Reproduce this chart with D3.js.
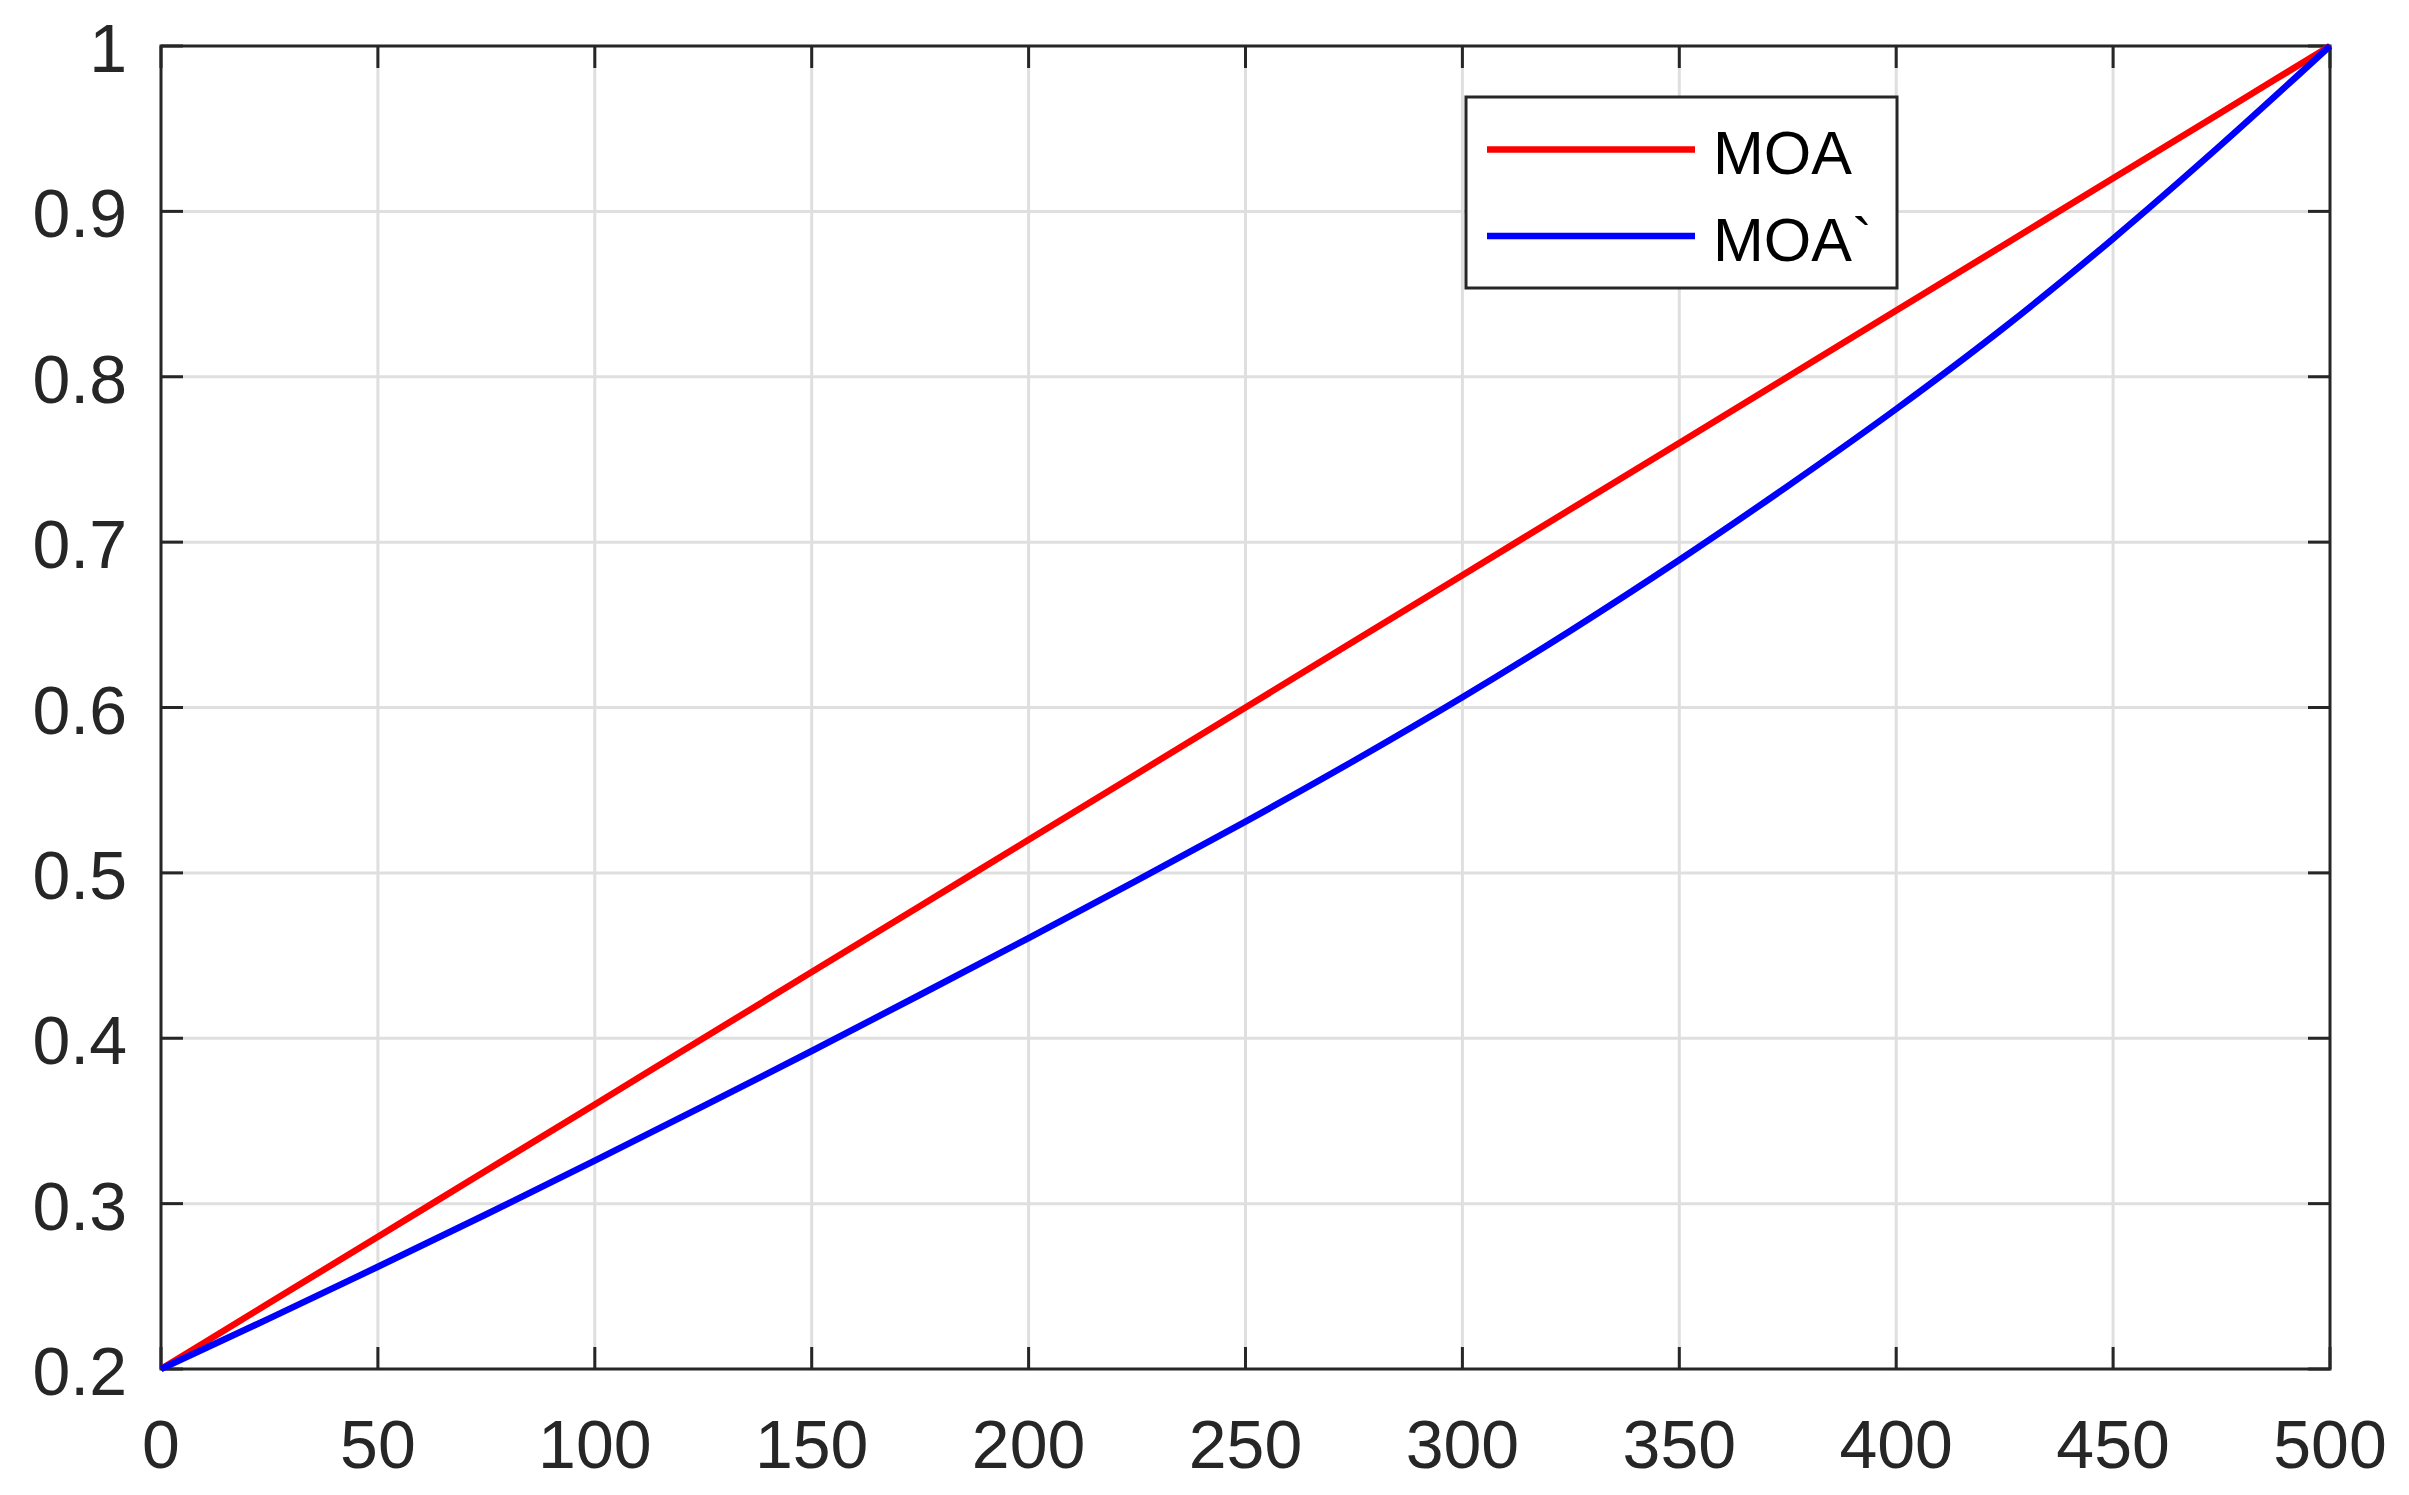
<!DOCTYPE html>
<html>
<head>
<meta charset="utf-8">
<script src="https://cdn.jsdelivr.net/npm/d3@7"></script>
<style>
  html, body { margin: 0; padding: 0; background: #fff; }
  svg { display: block; }
  text { font-family: Arial, "Liberation Sans", Helvetica, sans-serif; }
</style>
</head>
<body>
<svg id="chart" width="2409" height="1495"></svg>
<script>
// ---- data ----
const iterations = [0, 25, 50, 75, 100, 125, 150, 175, 200, 225, 250, 275, 300, 325, 350, 375, 400, 425, 450, 475, 500];
const moa      = [0.20, 0.24, 0.28, 0.32, 0.36, 0.40, 0.44, 0.48, 0.52, 0.56, 0.60, 0.64, 0.68, 0.72, 0.76, 0.80, 0.84, 0.88, 0.92, 0.96, 1.00];
const moaPrime = [0.2000, 0.2306, 0.2618, 0.2936, 0.3260, 0.3589, 0.3923, 0.4263, 0.4606, 0.4954, 0.5310, 0.5678, 0.6062, 0.6466, 0.6892, 0.7339, 0.7805, 0.8300, 0.8835, 0.9405, 1.0000];
const seriesNames = ["MOA", "MOA`"];
const seriesColors = ["#ff0000", "#0000ff"];
const xTicks = [0, 50, 100, 150, 200, 250, 300, 350, 400, 450, 500];
const yTicks = [0.2, 0.3, 0.4, 0.5, 0.6, 0.7, 0.8, 0.9, 1];

// ---- layout ----
const svg = d3.select("#chart");
const L = 161, R = 2330, T = 46, B = 1369;
const axisColor = "#262626";
const gridColor = "#dfdfdf";
const tickLen = 22;

const x = d3.scaleLinear().domain([0, 500]).range([L, R]);
const y = d3.scaleLinear().domain([0.2, 1]).range([B, T]);

// grid
const grid = svg.append("g");
grid.selectAll("line.gx").data(xTicks.slice(1, -1)).join("line")
  .attr("x1", d => x(d)).attr("x2", d => x(d))
  .attr("y1", T).attr("y2", B)
  .attr("stroke", gridColor).attr("stroke-width", 3);
grid.selectAll("line.gy").data(yTicks.slice(1, -1)).join("line")
  .attr("y1", d => y(d)).attr("y2", d => y(d))
  .attr("x1", L).attr("x2", R)
  .attr("stroke", gridColor).attr("stroke-width", 3);

// axes frame + ticks (inward on all sides)
const ax = svg.append("g");
ax.append("rect").attr("x", L).attr("y", T).attr("width", R - L).attr("height", B - T)
  .attr("fill", "none").attr("stroke", axisColor).attr("stroke-width", 3);
xTicks.forEach(d => {
  ax.append("line").attr("x1", x(d)).attr("x2", x(d)).attr("y1", B).attr("y2", B - tickLen)
    .attr("stroke", axisColor).attr("stroke-width", 3);
  ax.append("line").attr("x1", x(d)).attr("x2", x(d)).attr("y1", T).attr("y2", T + tickLen)
    .attr("stroke", axisColor).attr("stroke-width", 3);
});
yTicks.forEach(d => {
  ax.append("line").attr("y1", y(d)).attr("y2", y(d)).attr("x1", L).attr("x2", L + tickLen)
    .attr("stroke", axisColor).attr("stroke-width", 3);
  ax.append("line").attr("y1", y(d)).attr("y2", y(d)).attr("x1", R).attr("x2", R - tickLen)
    .attr("stroke", axisColor).attr("stroke-width", 3);
});

// tick labels
const fs = 68;
ax.selectAll("text.xl").data(xTicks).join("text")
  .attr("x", d => x(d)).attr("y", 1468)
  .attr("text-anchor", "middle").attr("font-size", fs).attr("fill", axisColor)
  .text(d => d3.format("d")(d));
ax.selectAll("text.yl").data(yTicks).join("text")
  .attr("x", 127).attr("y", d => y(d) + 26)
  .attr("text-anchor", "end").attr("font-size", fs).attr("fill", axisColor)
  .text(d => d === 1 ? "1" : d3.format(".1f")(d));

// lines
const line = d3.line().x((d, i) => x(iterations[i])).y(d => y(d)).curve(d3.curveMonotoneX);
[moa, moaPrime].forEach((s, k) => {
  svg.append("path").datum(s).attr("d", line)
    .attr("fill", "none").attr("stroke", seriesColors[k]).attr("stroke-width", 6.5)
    .attr("stroke-linejoin", "round");
});

// legend
const lg = svg.append("g");
lg.append("rect").attr("x", 1466).attr("y", 97).attr("width", 431).attr("height", 191)
  .attr("fill", "#fff").attr("stroke", axisColor).attr("stroke-width", 3);
const legY = [149.5, 236];
seriesNames.forEach((n, k) => {
  lg.append("line").attr("x1", 1487).attr("x2", 1695).attr("y1", legY[k]).attr("y2", legY[k])
    .attr("stroke", seriesColors[k]).attr("stroke-width", 6.5);
  lg.append("text").attr("x", 1713).attr("y", legY[k] + 24.5)
    .attr("font-size", 61).attr("fill", "#000").text(n);
});
</script>
</body>
</html>
